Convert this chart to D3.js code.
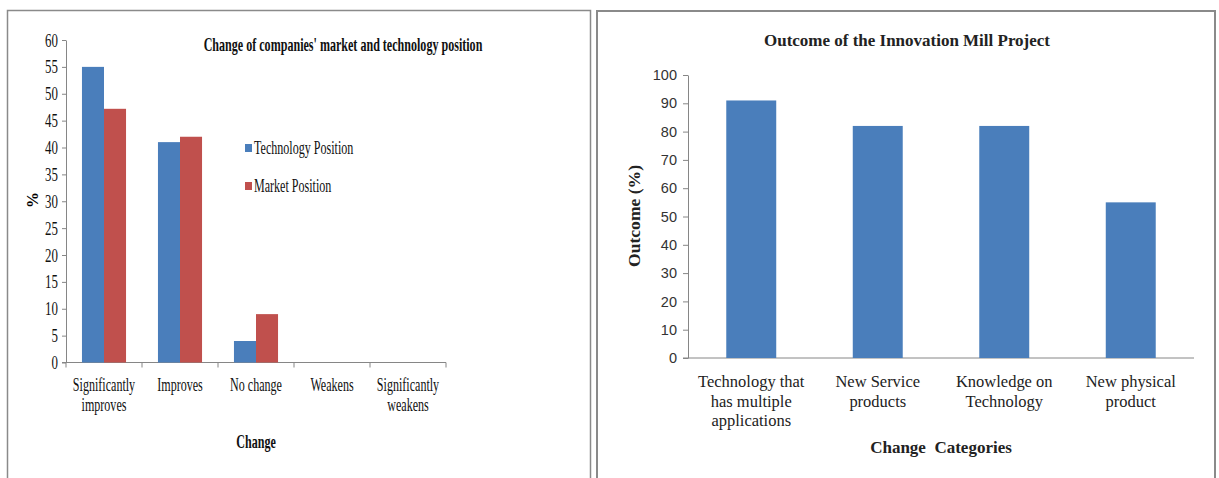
<!DOCTYPE html>
<html lang="en">
<meta charset="utf-8">
<style>
  body { margin: 0; background: #fff; }
</style>
<body>
<div id="chart"></div>

<script src="https://d3js.org/d3.v7.min.js"></script>

<script>

// left chart data
var changeCats = [["Significantly", "improves"], ["Improves"], ["No change"], ["Weakens"], ["Significantly", "weakens"]];
var seriesNames = ["Technology Position", "Market Position"];
var techPos = [55, 41, 4, 0, 0];
var marketPos = [47.2, 42, 9, 0, 0];
var leftTicks = [0, 5, 10, 15, 20, 25, 30, 35, 40, 45, 50, 55, 60];

// right chart data
var outcomeCats = [["Technology that", "has multiple", "applications"], ["New Service", "products"], ["Knowledge on", "Technology"], ["New physical", "product"]];
var outcomeVals = [91, 82, 82, 55];
var rightTicks = [0, 10, 20, 30, 40, 50, 60, 70, 80, 90, 100];

var blue = "#4a7ebb", red = "#c0504d", axisCol = "#868686";

var svg = d3.select("#chart").append("svg")
  .attr("width", 1219)
  .attr("height", 478);

// panel frames (no bottom edge visible)
svg.append("path")
  .attr("d", "M7.5,478V10.5H590.5V478")
  .attr("fill", "none").attr("stroke", "#8a8a8a").attr("stroke-width", 1.5);
svg.append("path")
  .attr("d", "M597,478V11H1215V478")
  .attr("fill", "none").attr("stroke", "#8a8a8a").attr("stroke-width", 2);

// left chart text is horizontally compressed: place it with a scaled transform
var K = 0.635;
function sqText(parent, x, y, t, size, bold, anchor) {
  return parent.append("text")
    .attr("transform", "translate(" + x + "," + y + ") scale(" + K + ",1)")
    .attr("text-anchor", anchor || "middle")
    .style("font-family", serif)
    .style("font-size", size + "px")
    .style("font-weight", bold ? "bold" : "normal")
    .attr("fill", "#111")
    .text(t);
}

// ---------- left chart ----------
var L = svg.append("g");
var serif = "'Liberation Serif', 'Times New Roman', serif";

var x0 = d3.scaleBand()
  .domain(d3.range(changeCats.length))
  .range([66, 446])
  .paddingInner(0.42)
  .paddingOuter(0.21);
var x1 = d3.scaleBand()
  .domain([0, 1])
  .range([0, x0.bandwidth()]);
var yL = d3.scaleLinear().domain([0, 60]).range([362.5, 40]);

// y axis
var yAxisL = L.append("g")
  .attr("transform", "translate(66,0)")
  .call(d3.axisLeft(yL).tickValues(leftTicks).tickSize(4).tickSizeOuter(0));
yAxisL.select(".domain").attr("stroke", axisCol);
yAxisL.selectAll(".tick line").attr("stroke", axisCol);
yAxisL.selectAll(".tick text")
  .attr("x", 0)
  .attr("transform", "translate(-8,0) scale(0.68,1)")
  .attr("fill", "#111")
  .style("font-family", serif)
  .style("font-size", "19px");

// x axis line with boundary ticks
L.append("line")
  .attr("x1", 62).attr("x2", 446)
  .attr("y1", yL(0)).attr("y2", yL(0))
  .attr("stroke", axisCol);
L.selectAll(".xtick")
  .data(d3.range(changeCats.length + 1))
  .enter().append("line")
  .attr("x1", function(i) { return 66 + i * x0.step(); })
  .attr("x2", function(i) { return 66 + i * x0.step(); })
  .attr("y1", yL(0)).attr("y2", yL(0) + 5)
  .attr("stroke", axisCol);

// bars
var grp = L.selectAll(".grp")
  .data(changeCats.map(function(c, i) { return [techPos[i], marketPos[i]]; }))
  .enter().append("g")
  .attr("transform", function(d, i) { return "translate(" + x0(i) + ",0)"; });
grp.selectAll("rect")
  .data(function(d) { return d; })
  .enter().append("rect")
  .attr("x", function(d, j) { return x1(j); })
  .attr("width", x1.bandwidth())
  .attr("y", function(d) { return yL(d); })
  .attr("height", function(d) { return yL(0) - yL(d); })
  .attr("fill", function(d, j) { return j == 0 ? blue : red; });

// category labels
changeCats.forEach(function(lines, i) {
  lines.forEach(function(t, k) {
    sqText(L, x0(i) + x0.bandwidth() / 2, 391 + k * 20, t, 19, false);
  });
});

// titles
sqText(L, 343, 51, "Change of companies' market and technology position", 19, true);
sqText(L, 256, 448, "Change", 19, true);
L.append("text")
  .attr("transform", "translate(38,200) rotate(-90)")
  .attr("text-anchor", "middle")
  .style("font-family", serif).style("font-size", "16px").style("font-weight", "bold")
  .text("%");

// legend
seriesNames.forEach(function(name, i) {
  var yy = 148 + i * 38;
  L.append("rect")
    .attr("x", 245).attr("y", yy - 4).attr("width", 7).attr("height", 8)
    .attr("fill", i == 0 ? blue : red);
  sqText(L, 254, yy + 6, name, 19, false, "start");
});

// ---------- right chart ----------
var R = svg.append("g");

var xR = d3.scaleBand()
  .domain(d3.range(outcomeCats.length))
  .range([688, 1194])
  .paddingInner(0.605)
  .paddingOuter(0.3025);
var yR = d3.scaleLinear().domain([0, 100]).range([358, 75]);

var yAxisR = R.append("g")
  .attr("transform", "translate(688,0)")
  .call(d3.axisLeft(yR).tickValues(rightTicks).tickSize(5).tickSizeOuter(0));
yAxisR.select(".domain").attr("stroke", axisCol);
yAxisR.selectAll(".tick line").attr("stroke", axisCol);
yAxisR.selectAll(".tick text")
  .attr("x", -11)
  .attr("fill", "#333")
  .style("font-family", "'Liberation Sans', Arial, sans-serif")
  .style("font-size", "14.5px");

R.append("line")
  .attr("x1", 683).attr("x2", 1194)
  .attr("y1", yR(0)).attr("y2", yR(0))
  .attr("stroke", axisCol);

R.selectAll(".bar")
  .data(outcomeVals)
  .enter().append("rect")
  .attr("x", function(d, i) { return xR(i); })
  .attr("width", xR.bandwidth())
  .attr("y", function(d) { return yR(d); })
  .attr("height", function(d) { return yR(0) - yR(d); })
  .attr("fill", blue);

outcomeCats.forEach(function(lines, i) {
  lines.forEach(function(t, k) {
    R.append("text")
      .attr("transform", "translate(" + (xR(i) + xR.bandwidth() / 2) + "," + (387 + k * 19.5) + ") scale(0.97,1)")
      .attr("text-anchor", "middle")
      .style("font-family", serif)
      .style("font-size", "17px")
      .attr("fill", "#222")
      .text(t);
  });
});

R.append("text")
  .attr("x", 907).attr("y", 46)
  .attr("text-anchor", "middle")
  .attr("textLength", 286).attr("lengthAdjust", "spacingAndGlyphs")
  .style("font-family", serif).style("font-size", "17px").style("font-weight", "bold")
  .attr("fill", "#222")
  .text("Outcome of the Innovation Mill Project");
R.append("text")
  .attr("x", 941).attr("y", 453)
  .attr("text-anchor", "middle")
  .style("font-family", serif).style("font-size", "17px").style("font-weight", "bold")
  .attr("fill", "#222")
  .style("white-space", "pre")
  .text("Change  Categories");
R.append("text")
  .attr("transform", "translate(640,216) rotate(-90)")
  .attr("text-anchor", "middle")
  .attr("textLength", 102).attr("lengthAdjust", "spacingAndGlyphs")
  .style("font-family", serif).style("font-size", "17px").style("font-weight", "bold")
  .attr("fill", "#222")
  .text("Outcome (%)");

</script>

</body>
</html>
